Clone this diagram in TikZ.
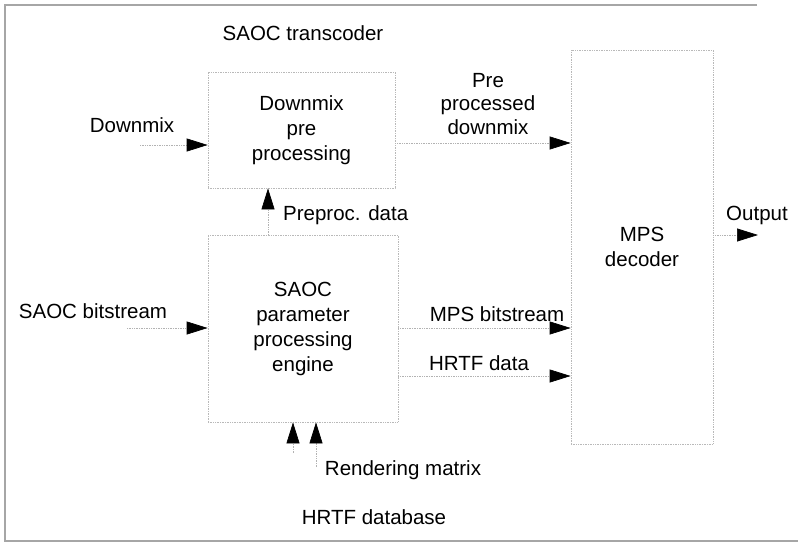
\documentclass[tikz,border=0pt]{standalone}
\usepackage{fontspec}
\setmainfont{Liberation Sans}
\usepackage{tikz}
\usetikzlibrary{arrows.meta,positioning,calc}

\begin{document}
\begin{tikzpicture}[
  x=1pt, y=-1pt,
  every node/.style={font=\fontsize{20.5}{25}\selectfont, inner sep=0pt},
  procbox/.style={
    rectangle, draw=gray!55, densely dotted, line width=0.7pt,
    align=center
  },
  lbl/.style={align=center, font=\fontsize{20.5}{23.5}\selectfont},
  flow/.style={
    -{Triangle[length=21pt,width=13pt,color=black,fill=black]},
    gray!60, densely dotted, line width=0.7pt
  },
  frameline/.style={gray!70, line width=1.1pt},
]
\useasboundingbox (0,0) rectangle (798,543);

% --- Frame ---
\draw[frameline] (757,5) -- (5,5) -- (5,541) -- (798,541);

% --- Nodes ---
\node[procbox, minimum width=187pt, minimum height=116pt] (dmxpre) at (301.5,130)
  {Downmix\\pre\\processing};

\node[procbox, minimum width=190pt, minimum height=187pt] (paramproc) at (303,328.5)
  {SAOC\\parameter\\processing\\engine};

\node[procbox, minimum width=142pt, minimum height=394pt] (mpsdec) at (642,247)
  {MPS\\decoder};

% --- Labels ---
\node[lbl] (transcoder) at (303,33) {SAOC transcoder};
\node[lbl] (dmxlbl) at (132,125) {Downmix};
\node[lbl, anchor=west] (prelbl) at (283,215) {Preproc. data};
\node[lbl] (ppdlbl) at (488,104) {Pre\\processed\\downmix};
\node[lbl] (outlbl) at (757,215) {Output};
\node[lbl] (saoclbl) at (93,311) {SAOC bitstream};
\node[lbl] (mpslbl) at (497,314) {MPS bitstream};
\node[lbl] (hrtflbl) at (479,363) {HRTF data};
\node[lbl] (renderlbl) at (403,470) {Rendering matrix};
\node[lbl] (hrtfdb) at (374,517) {HRTF database};

% --- Free ends ---
\coordinate (dmxin) at (140,145);
\coordinate (saocin) at (127,328);
\coordinate (outend) at (758,235);
\coordinate (renderin) at (316,467);
\coordinate (hrtfin) at (293,453);
\coordinate (prex) at (268,0);
\coordinate (ppdy) at (0,143);
\coordinate (hrtfy) at (0,376);

% --- Arrows ---
\draw[flow] (dmxin) -- (dmxin -| dmxpre.west);
\draw[flow] (saocin) -- (saocin -| paramproc.west);
\draw[flow] (prex |- paramproc.north) -- (prex |- dmxpre.south);
\draw[flow] (ppdy -| dmxpre.east) -- (ppdy -| mpsdec.west);
\draw[flow] (saocin -| paramproc.east) -- (saocin -| mpsdec.west);
\draw[flow] (hrtfy -| paramproc.east) -- (hrtfy -| mpsdec.west);
\draw[flow] (outend -| mpsdec.east) -- (outend);
\draw[flow] (renderin) -- (renderin |- paramproc.south);
\draw[flow] (hrtfin) -- (hrtfin |- paramproc.south);

\end{tikzpicture}
\end{document}
